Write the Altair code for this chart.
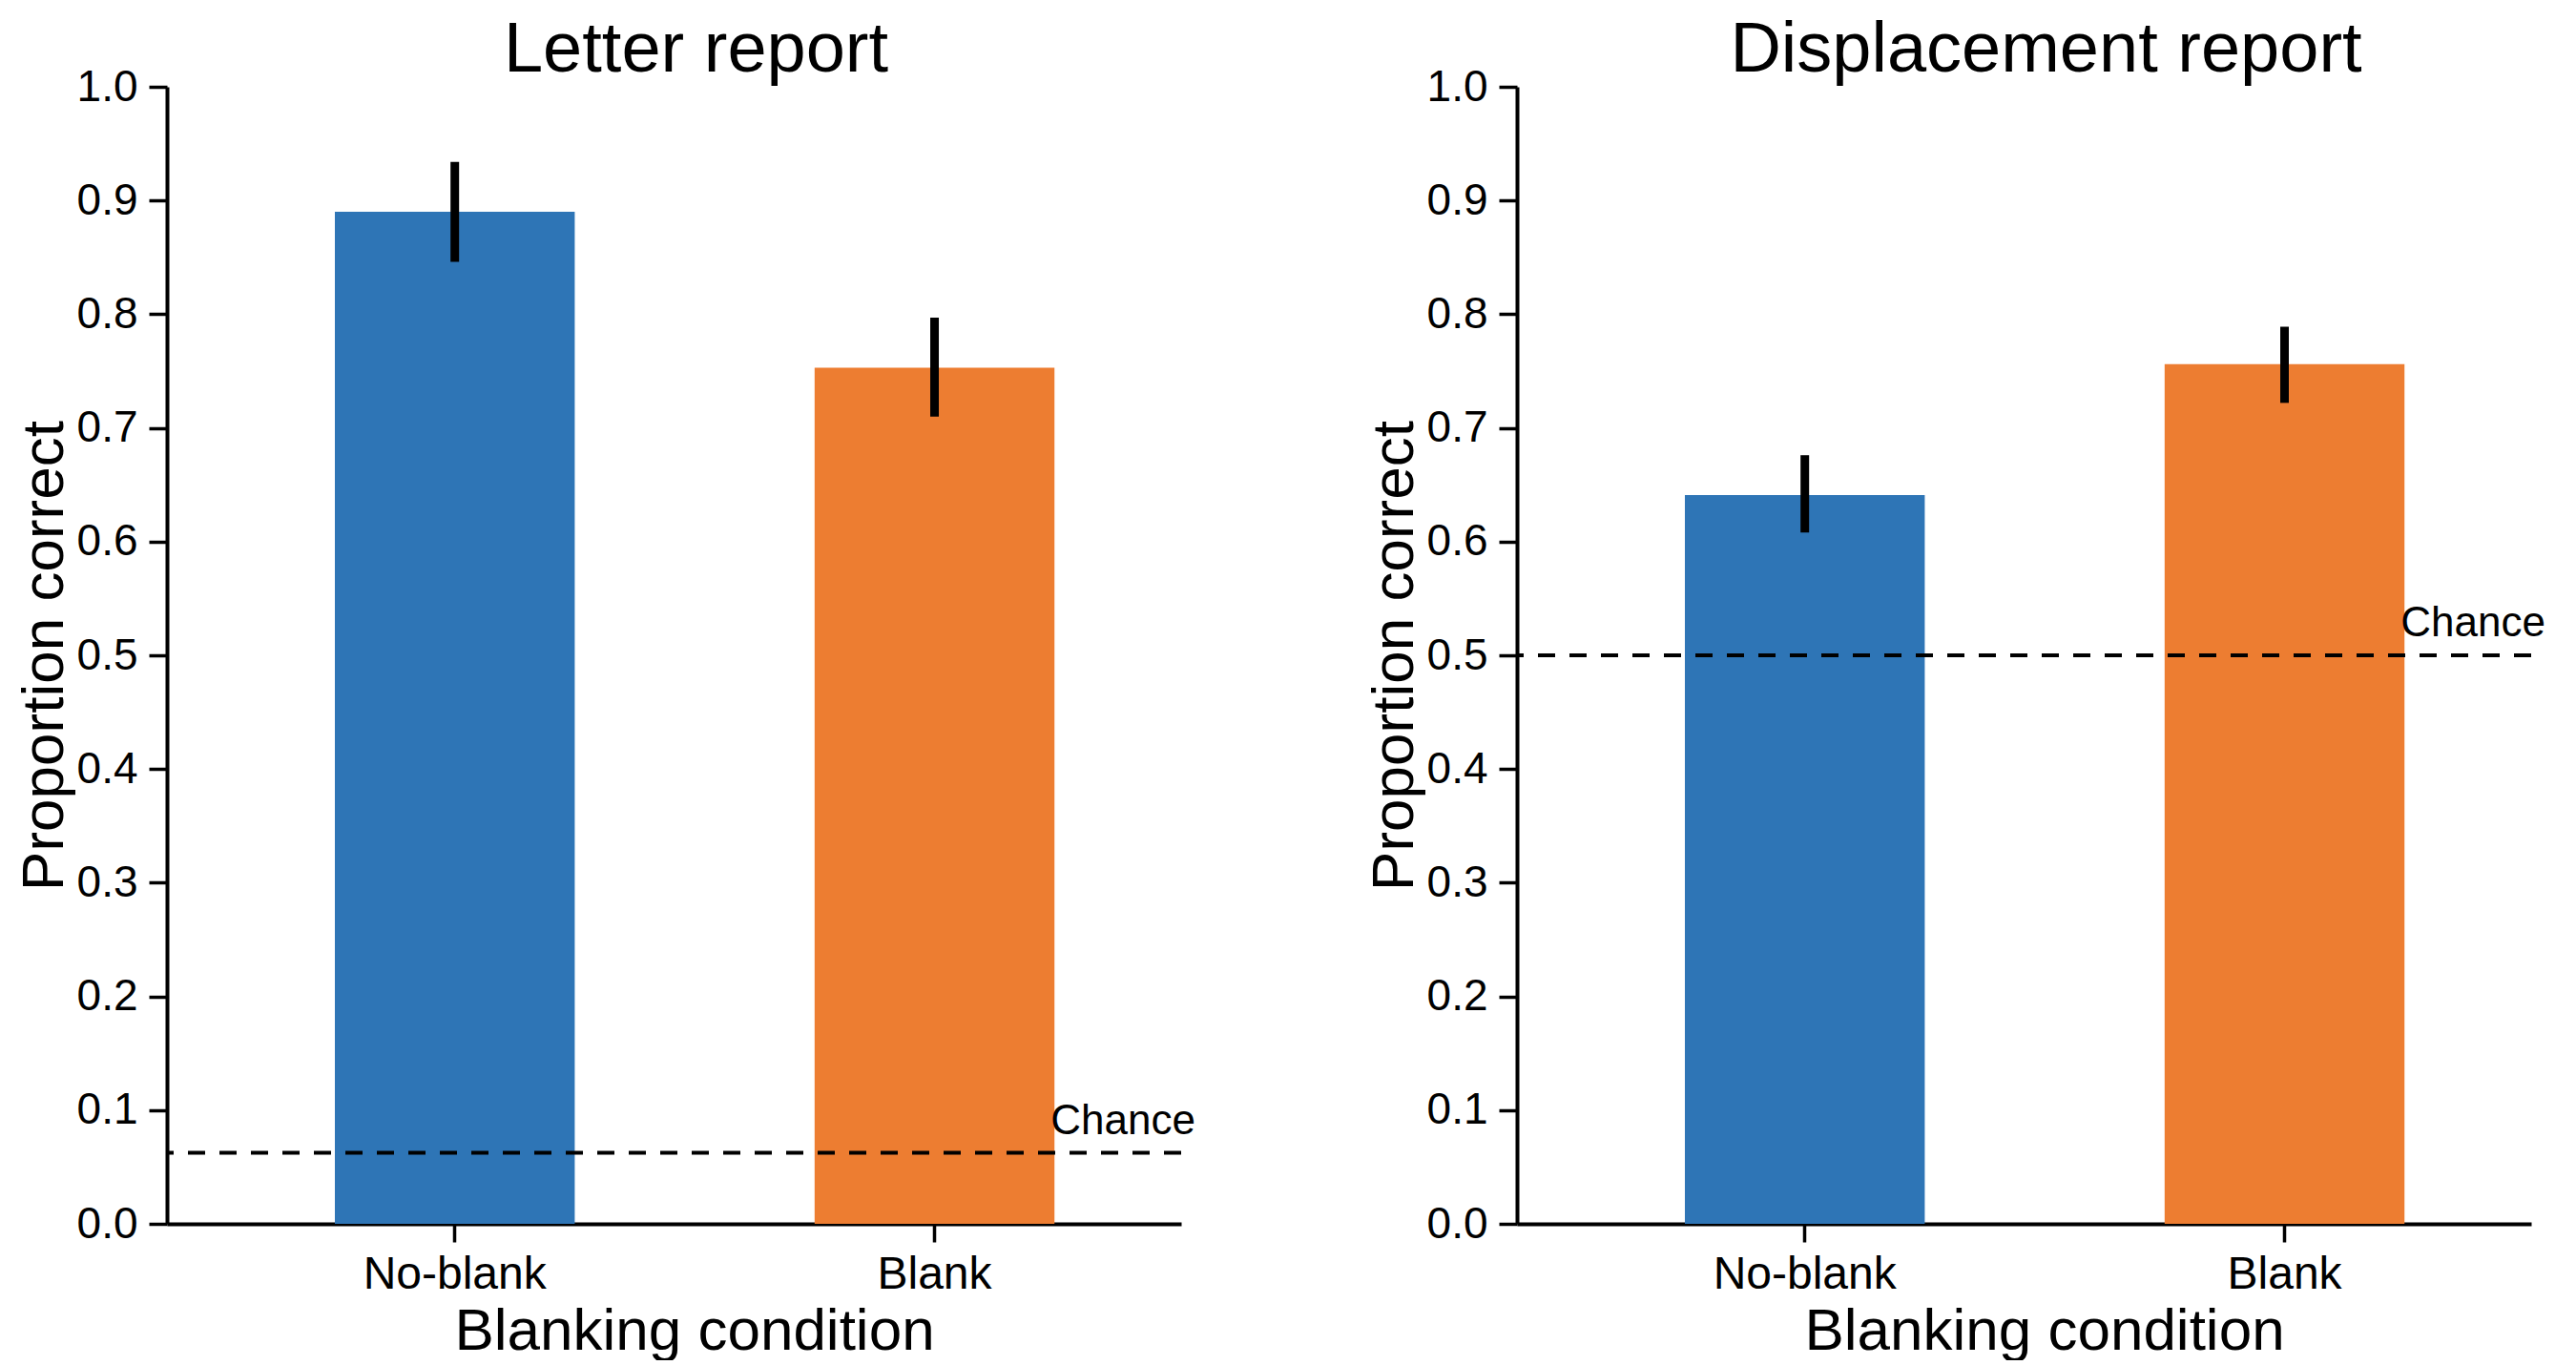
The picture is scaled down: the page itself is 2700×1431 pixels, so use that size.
import altair as alt
import pandas as pd

conditions = ["No-blank", "Blank"]
bar_colors = ["#2E75B6", "#ED7D31"]

panel_titles = ["Letter report", "Displacement report"]

letter_mean = [0.890, 0.753]
letter_lo = [0.846, 0.710]
letter_hi = [0.934, 0.797]

disp_mean = [0.641, 0.756]
disp_lo = [0.608, 0.722]
disp_hi = [0.676, 0.789]

chance_levels = [0.0625, 0.5]
chance_label = "Chance"

y_ticks = [0.0, 0.1, 0.2, 0.3, 0.4, 0.5, 0.6, 0.7, 0.8, 0.9, 1.0]

FONT = "Liberation Sans, Arial, Helvetica, sans-serif"
W = 1063
H = 1192


def panel(title, means, lo, hi, chance):
    df = pd.DataFrame({"cond": conditions, "mean": means, "lo": lo, "hi": hi})
    xscale = alt.Scale(domain=conditions, paddingInner=0.5, paddingOuter=0.307, align=0.57)
    xaxis = alt.Axis(
        title="Blanking condition", labelAngle=0, tickSize=19, labelPadding=10,
        labelLimit=0, titleX=W / 2 + 21, titleY=131, titleBaseline="alphabetic",
    )
    yaxis = alt.Axis(
        title="Proportion correct", values=y_ticks, format=".1f", tickSize=19,
        labelPadding=12, titlePadding=2, labelOverlap=False, grid=False,
    )
    yscale = alt.Scale(domain=[0, 1], nice=False, zero=True)

    bars = alt.Chart(df).mark_bar().encode(
        x=alt.X("cond:N", sort=conditions, scale=xscale, axis=xaxis),
        y=alt.Y("mean:Q", scale=yscale, axis=yaxis),
        color=alt.Color("cond:N", scale=alt.Scale(domain=conditions, range=bar_colors), legend=None),
    )
    err = alt.Chart(df).mark_rule(color="black", strokeWidth=9).encode(
        x=alt.X("cond:N", sort=conditions),
        y=alt.Y("lo:Q"),
        y2="hi:Q",
    )
    cdf = pd.DataFrame({"chance": [chance], "label": [chance_label]})
    line = alt.Chart(cdf).mark_rule(color="black", strokeWidth=4, strokeDash=[18, 15]).encode(
        y=alt.Y("chance:Q"),
    )
    txt = alt.Chart(cdf).mark_text(
        align="right", baseline="alphabetic", dx=15, dy=-20, fontSize=44, font=FONT, color="black",
    ).encode(
        y=alt.Y("chance:Q"),
        x=alt.value(W),
        text="label:N",
    )
    tdf = pd.DataFrame({"title": [title]})
    ttl = alt.Chart(tdf).mark_text(
        align="center", baseline="alphabetic", fontSize=74, font=FONT, color="black", dx=23,
    ).encode(
        x=alt.value(W / 2),
        y=alt.value(-16),
        text="title:N",
    )
    return alt.layer(bars, err, line, txt, ttl).properties(width=W, height=H)


left = panel(panel_titles[0], letter_mean, letter_lo, letter_hi, chance_levels[0])
right = panel(panel_titles[1], disp_mean, disp_lo, disp_hi, chance_levels[1])

chart = alt.hconcat(left, right, spacing=177).properties(
    padding={"left": 7, "top": 8, "right": 0, "bottom": 0}
).configure_view(
    strokeWidth=0
).configure_axis(
    domainColor="black", domainWidth=4, tickColor="black", tickWidth=3.5,
    labelColor="black", titleColor="black", labelFont=FONT, titleFont=FONT,
    labelFontSize=46, titleFontSize=62, titleFontWeight="normal", grid=False,
).configure_axisX(labelFontSize=48)

chart.save("out.html", embed_options={"renderer": "svg", "actions": False})
